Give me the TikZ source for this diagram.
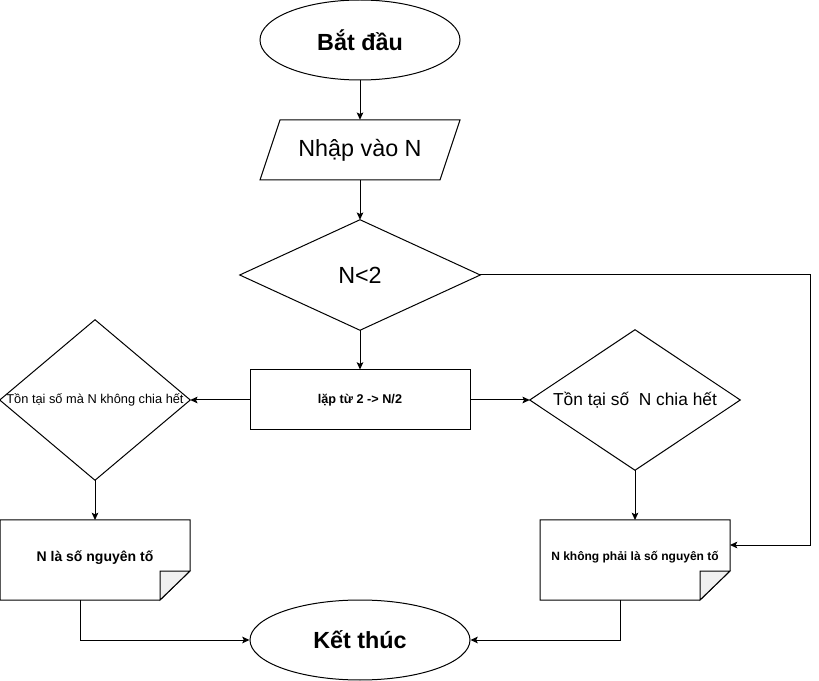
\documentclass[tikz,border=0pt]{standalone}
\usepackage{fontspec}
\setmainfont{Liberation Sans}
\usetikzlibrary{shapes.geometric,arrows.meta}
\tikzset{
  shp/.style={draw=black, line width=0.75pt},
  term/.style={ellipse, shp, inner sep=0pt},
  boxn/.style={rectangle, inner sep=0pt},
  arr/.style={draw=black, line width=0.75pt, -{Stealth[length=5.5pt,width=5pt,inset=1.2pt]}},
  ln/.style={draw=black, line width=0.75pt},
  foldc/.style={fill=black!6, draw=black, line width=0.75pt},
}
\begin{document}
\begin{tikzpicture}[x=0.75pt,y=-0.75pt]
\useasboundingbox (0,0) rectangle (819,681);
% start
\node[term, minimum width=150pt, minimum height=60pt] (start) at (360,40) {\fontsize{17.5}{20}\selectfont\bfseries Bắt đầu};
% input
\node[boxn, minimum width=150pt, minimum height=45pt] (input) at (360,150) {\fontsize{17.5}{20}\selectfont Nhập vào N};
\draw[shp] (280,120) -- (460,120) -- (440,180) -- (260,180) -- cycle;
% decision N<2
\node[boxn, minimum width=180pt, minimum height=82.5pt] (c1) at (360,275) {\fontsize{17.5}{20}\selectfont N<2};
\draw[shp] (c1.north) -- (c1.east) -- (c1.south) -- (c1.west) -- cycle;
% loop
\node[boxn, shp, minimum width=165pt, minimum height=45pt] (loop) at (360,400) {\fontsize{9.5}{11}\selectfont\bfseries lặp từ 2 -> N/2};
% left diamond
\node[boxn, minimum width=142.5pt, minimum height=120pt] (dl) at (95,400) {\fontsize{9.6}{11}\selectfont Tồn tại số mà N không chia hết};
\draw[shp] (dl.north) -- (dl.east) -- (dl.south) -- (dl.west) -- cycle;
% right diamond
\node[boxn, minimum width=157.5pt, minimum height=105pt] (dr) at (635,400) {\fontsize{13}{15}\selectfont Tồn tại số\ \ N chia hết};
\draw[shp] (dr.north) -- (dr.east) -- (dr.south) -- (dr.west) -- cycle;
% documents
\node[boxn, minimum width=142.5pt, minimum height=60pt] (docL) at (95,558) {\fontsize{10.5}{12}\selectfont\bfseries N là số nguyên tố};
\draw[shp] (0,520) -- (190,520) -- (190,571) -- (160,600) -- (0,600) -- cycle;
\draw[foldc] (160,571) -- (190,571) -- (160,600) -- cycle;
\node[boxn, minimum width=142.5pt, minimum height=60pt] (docR) at (635,557) {\fontsize{9}{11}\selectfont\bfseries N không phải là số nguyên tố};
\draw[shp] (540,520) -- (730,520) -- (730,571) -- (700,600) -- (540,600) -- cycle;
\draw[foldc] (700,571) -- (730,571) -- (700,600) -- cycle;
% end
\node[term, minimum width=165pt, minimum height=60pt] (end) at (360,640) {\fontsize{17.5}{20}\selectfont\bfseries Kết thúc};
% coordinates
\coordinate (cR) at (810,275);
\coordinate (rin) at (730,545);
\coordinate (lout) at (80,600);
\coordinate (rout) at (620,600);
\coordinate (dlin) at (95,520);
\coordinate (drin) at (635,520);
% connectors
\draw[arr] (start.south) -- (input.north);
\draw[arr] (input.south) -- (c1.north);
\draw[arr] (c1.south) -- (loop.north);
\draw[arr] (c1.east) -- (cR) |- (rin);
\draw[arr] (loop.west) -- (dl.east);
\draw[arr] (loop.east) -- (dr.west);
\draw[arr] (dl.south) -- (dlin);
\draw[arr] (dr.south) -- (drin);
\draw[arr] (lout) |- (end.west);
\draw[arr] (rout) |- (end.east);
\end{tikzpicture}
\end{document}
